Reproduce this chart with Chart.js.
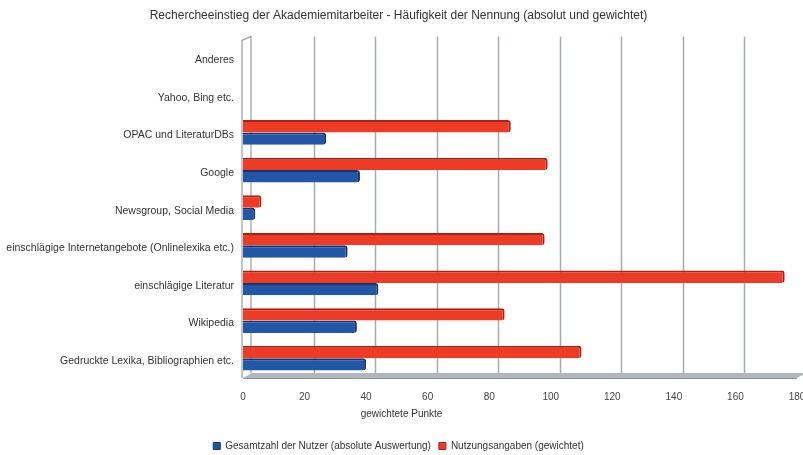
<!DOCTYPE html>
<html>
<head>
<meta charset="utf-8">
<script src="https://cdn.jsdelivr.net/npm/chart.js@4/dist/chart.umd.min.js"></script>
<style>
  html, body { margin: 0; padding: 0; background: #fff; }
  #wrap { width: 803px; height: 455px; }
</style>
</head>
<body>
<div id="wrap"><canvas id="chart"></canvas></div>
<script>
// Kategorien von oben nach unten
const categories = [
  'Anderes',
  'Yahoo, Bing etc.',
  'OPAC und LiteraturDBs',
  'Google',
  'Newsgroup, Social Media',
  'einschlägige Internetangebote (Onlinelexika etc.)',
  'einschlägige Literatur',
  'Wikipedia',
  'Gedruckte Lexika, Bibliographien etc.'
];
const nutzerAbsolut = [0, 0, 27, 38, 4, 34, 44, 37, 40];
const nutzungGewichtet = [0, 0, 87, 99, 6, 98, 176, 85, 110];
const xTicks = [0, 20, 40, 60, 80, 100, 120, 140, 160, 180];

const FONT = 'Liberation Sans, Arial, sans-serif';
const DEPTH = 9; // Tiefe der 3D-Wand

// Rueckwand-Gitter, Boden und linke Wand wie im 3D-Diagramm
const wallPlugin = {
  id: 'wall',
  beforeDatasetsDraw(chart) {
    const { ctx, chartArea: a, scales: { x } } = chart;
    ctx.save();
    ctx.strokeStyle = '#a6aaaf';
    ctx.lineWidth = 1.5;
    x.ticks.forEach(t => {
      if (t.value === 0) return;
      const px = Math.round(x.getPixelForValue(t.value) + DEPTH) + 0.5;
      ctx.beginPath();
      ctx.moveTo(px, a.top - 2);
      ctx.lineTo(px, a.bottom - 4);
      ctx.stroke();
    });
    // Boden
    ctx.fillStyle = '#b3b6ba';
    ctx.beginPath();
    ctx.moveTo(a.left, a.bottom + 1);
    ctx.lineTo(a.left + DEPTH, a.bottom - 4);
    ctx.lineTo(a.right + DEPTH, a.bottom - 4);
    ctx.lineTo(a.right, a.bottom + 1);
    ctx.closePath();
    ctx.fill();
    ctx.strokeStyle = '#8f9398';
    ctx.lineWidth = 1;
    ctx.beginPath();
    ctx.moveTo(a.left, a.bottom + 1.5);
    ctx.lineTo(a.right, a.bottom + 1.5);
    ctx.stroke();
    // linke Wand
    ctx.strokeStyle = '#9a9ea3';
    ctx.lineWidth = 1.2;
    ctx.beginPath();
    ctx.moveTo(a.left - 1, a.bottom + 1);
    ctx.lineTo(a.left - 1, a.top + 2);
    ctx.lineTo(a.left + DEPTH - 1, a.top - 2);
    ctx.lineTo(a.left + DEPTH - 1, a.bottom - 4);
    ctx.stroke();
    ctx.restore();
  },
  afterDraw(chart) {
    const { ctx, chartArea: a } = chart;
    ctx.save();
    ctx.font = '10px ' + FONT;
    ctx.fillStyle = '#333';
    ctx.textAlign = 'center';
    ctx.textBaseline = 'middle';
    ctx.fillText('gewichtete Punkte', chart.width / 2, a.bottom + 37);
    ctx.restore();
  }
};

new Chart(document.getElementById('chart'), {
  type: 'bar',
  data: {
    labels: categories,
    datasets: [
      {
        label: 'Nutzungsangaben (gewichtet)',
        data: nutzungGewichtet,
        backgroundColor: '#ee3b25',
        borderColor: '#a82216',
        borderWidth: { top: 2, right: 2, bottom: 0, left: 0 },
        borderRadius: { topRight: 3, bottomRight: 3 },
        borderSkipped: 'start'
      },
      {
        label: 'Gesamtzahl der Nutzer (absolute Auswertung)',
        data: nutzerAbsolut,
        backgroundColor: '#2256a6',
        borderColor: '#143670',
        borderWidth: { top: 2, right: 2, bottom: 0, left: 0 },
        borderRadius: { topRight: 3, bottomRight: 3 },
        borderSkipped: 'start'
      }
    ]
  },
  options: {
    indexAxis: 'y',
    responsive: true,
    maintainAspectRatio: false,
    animation: false,
    layout: { padding: { left: 0, right: 6, top: 0, bottom: -6 } },
    plugins: {
      title: {
        display: true,
        text: 'Rechercheeinstieg der Akademiemitarbeiter - Häufigkeit der Nennung (absolut und gewichtet)',
        color: '#333',
        font: { family: FONT, size: 12, weight: 'normal' },
        padding: { top: 8, bottom: 16 }
      },
      legend: {
        position: 'bottom',
        labels: {
          color: '#333',
          font: { family: FONT, size: 10 },
          boxWidth: 7,
          boxHeight: 7,
          padding: 8,
          sort: (a, b) => b.datasetIndex - a.datasetIndex
        }
      },
      tooltip: { enabled: false }
    },
    datasets: {
      bar: { categoryPercentage: 0.66, barPercentage: 1.0 }
    },
    scales: {
      x: {
        min: 0,
        max: 180,
        afterBuildTicks: s => { s.ticks = xTicks.map(v => ({ value: v })); },
        ticks: { color: '#444', font: { family: FONT, size: 10 }, padding: 14 },
        grid: { display: false, drawTicks: false },
        border: { display: false },
        afterFit: s => { s.height = 56; s.paddingLeft = 0; s.paddingRight = 0; }
      },
      y: {
        grid: { display: false, drawTicks: false },
        border: { display: false },
        ticks: { color: '#333', font: { family: FONT, size: 10.5 }, padding: 9, labelOffset: 3, autoSkip: false },
        afterFit: s => { s.width = 243; }
      }
    }
  },
  plugins: [wallPlugin]
});
</script>
</body>
</html>
